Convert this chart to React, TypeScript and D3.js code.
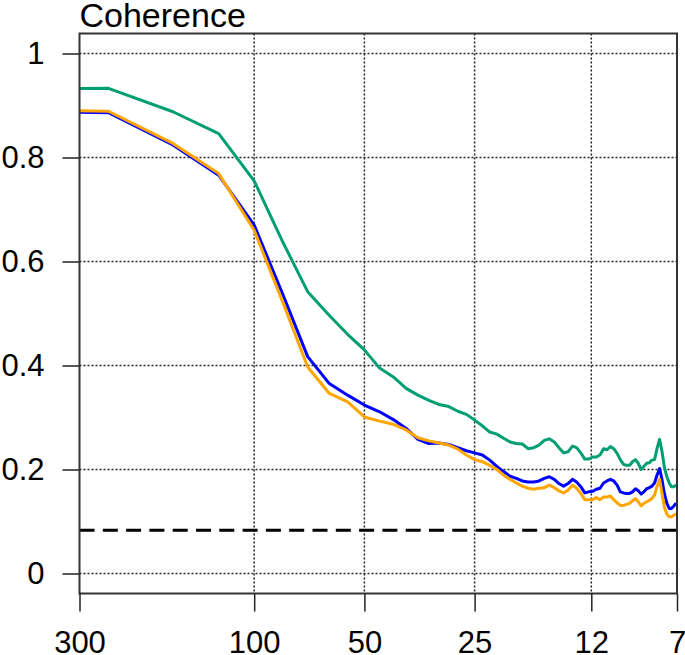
import React, { useEffect, useRef } from 'react';
import * as d3 from 'd3';

// period (months) of each spectral estimate, harmonic k of a 500-month record
const periods = [
  500, 250, 166.67, 125, 100, 83.33, 71.43, 62.5, 55.56, 50,
  45.45, 41.67, 38.46, 35.71, 33.33, 31.25, 29.41, 27.78, 26.32, 25,
  23.81, 22.73, 21.74, 20.83, 20, 19.23, 18.52, 17.86, 17.24, 16.67,
  16.13, 15.63, 15.15, 14.71, 14.29, 13.89, 13.51, 13.16, 12.82, 12.5,
  12.2, 11.9, 11.63, 11.36, 11.11, 10.87, 10.64, 10.42, 10.2, 10,
  9.8, 9.62, 9.43, 9.26, 9.09, 8.93, 8.77, 8.62, 8.47, 8.33,
  8.2, 8.06, 7.94, 7.81, 7.69, 7.58, 7.46, 7.35, 7.25, 7.14, 7.04,
];

const greenSeries = [
  0.931, 0.933, 0.888, 0.846, 0.755, 0.636, 0.542, 0.497, 0.460, 0.430,
  0.395, 0.378, 0.356, 0.343, 0.333, 0.325, 0.321, 0.312, 0.306, 0.295,
  0.284, 0.272, 0.268, 0.260, 0.253, 0.250, 0.249, 0.240, 0.242, 0.247,
  0.256, 0.259, 0.253, 0.242, 0.232, 0.234, 0.245, 0.242, 0.232, 0.220,
  0.220, 0.224, 0.224, 0.228, 0.240, 0.238, 0.244, 0.240, 0.231, 0.219,
  0.210, 0.208, 0.208, 0.215, 0.219, 0.212, 0.200, 0.206, 0.212, 0.213,
  0.218, 0.219, 0.240, 0.258, 0.234, 0.205, 0.186, 0.174, 0.167, 0.167, 0.170,
];

const blueSeries = [
  0.890, 0.886, 0.824, 0.766, 0.670, 0.535, 0.417, 0.366, 0.343, 0.324,
  0.311, 0.296, 0.279, 0.258, 0.250, 0.251, 0.248, 0.242, 0.236, 0.232,
  0.228, 0.218, 0.206, 0.196, 0.187, 0.183, 0.178, 0.176, 0.176, 0.178,
  0.183, 0.186, 0.181, 0.173, 0.168, 0.173, 0.181, 0.176, 0.167, 0.155,
  0.157, 0.158, 0.162, 0.164, 0.174, 0.178, 0.181, 0.178, 0.170, 0.157,
  0.155, 0.154, 0.154, 0.157, 0.163, 0.159, 0.153, 0.157, 0.163, 0.165,
  0.168, 0.174, 0.189, 0.202, 0.180, 0.154, 0.135, 0.125, 0.125, 0.130, 0.135,
];

const orangeSeries = [
  0.893, 0.889, 0.827, 0.769, 0.660, 0.520, 0.397, 0.347, 0.330, 0.301,
  0.293, 0.287, 0.276, 0.261, 0.255, 0.251, 0.247, 0.239, 0.228, 0.219,
  0.215, 0.208, 0.200, 0.189, 0.181, 0.174, 0.168, 0.164, 0.162, 0.164,
  0.165, 0.170, 0.165, 0.159, 0.155, 0.160, 0.170, 0.164, 0.154, 0.142,
  0.142, 0.142, 0.146, 0.142, 0.147, 0.147, 0.149, 0.142, 0.136, 0.131,
  0.131, 0.133, 0.135, 0.140, 0.144, 0.138, 0.130, 0.135, 0.138, 0.141,
  0.144, 0.151, 0.167, 0.181, 0.154, 0.128, 0.114, 0.109, 0.109, 0.112, 0.115,
];

const significance = 0.083;

const xTicks = [300, 100, 50, 25, 12, 7];
const yTicks = [0, 0.2, 0.4, 0.6, 0.8, 1];

const App = () => {
  const svgRef = useRef<SVGSVGElement>(null);
  const width = 685;
  const height = 655;
  const left = 79.5;
  const right = 677;
  const top = 33.5;
  const bottom = 593.5;
  const font = "'Liberation Sans', Arial, Helvetica, sans-serif";

  useEffect(() => {
    const svg = d3.select(svgRef.current);
    svg.selectAll('*').remove();

    const x = d3.scaleLog().domain([300, 7]).range([left, right]);
    const y = d3.scaleLinear().domain([-1 / 26, 1 + 1 / 26]).range([bottom, top]);

    svg.append('defs').append('clipPath').attr('id', 'plot-clip')
      .append('rect')
      .attr('x', left).attr('y', top)
      .attr('width', right - left).attr('height', bottom - top);

    // dotted grid
    const grid = svg.append('g')
      .attr('stroke', '#222')
      .attr('stroke-width', 1.5)
      .attr('stroke-dasharray', '2,2');
    grid.selectAll('line.h')
      .data(yTicks)
      .enter()
      .append('line')
      .attr('x1', left).attr('x2', right)
      .attr('y1', d => y(d)).attr('y2', d => y(d));
    grid.selectAll('line.v')
      .data(xTicks.slice(1, -1))
      .enter()
      .append('line')
      .attr('x1', d => x(d)).attr('x2', d => x(d))
      .attr('y1', top).attr('y2', bottom);

    // significance level
    svg.append('line')
      .attr('x1', left).attr('x2', right)
      .attr('y1', y(significance)).attr('y2', y(significance))
      .attr('stroke', '#000')
      .attr('stroke-width', 3)
      .attr('stroke-dasharray', '15,8.3');

    const line = d3.line<number>()
      .x((d, i) => x(periods[i]))
      .y(d => y(d));

    const series: [number[], string][] = [
      [blueSeries, '#0000ff'],
      [orangeSeries, '#ffa500'],
      [greenSeries, '#009e73'],
    ];
    const lines = svg.append('g').attr('clip-path', 'url(#plot-clip)');
    series.forEach(([values, color]) => {
      lines.append('path')
        .datum(values)
        .attr('d', line)
        .attr('fill', 'none')
        .attr('stroke', color)
        .attr('stroke-width', 3)
        .attr('stroke-linejoin', 'round');
    });

    // frame
    svg.append('rect')
      .attr('x', left).attr('y', top)
      .attr('width', right - left).attr('height', bottom - top)
      .attr('fill', 'none')
      .attr('stroke', '#333')
      .attr('stroke-width', 2);

    const xAxis = d3.axisBottom(x)
      .tickValues(xTicks)
      .tickFormat(d => String(d))
      .tickSizeInner(18)
      .tickSizeOuter(0)
      .tickPadding(19.5);
    const gx = svg.append('g')
      .attr('transform', `translate(0, ${bottom})`)
      .call(xAxis);
    gx.select('.domain').remove();
    gx.selectAll('.tick line').attr('stroke', '#222').attr('stroke-width', 1.5);
    gx.selectAll('text')
      .attr('font-family', font)
      .attr('font-size', 31)
      .attr('fill', '#000');

    const yAxis = d3.axisLeft(y)
      .tickValues(yTicks)
      .tickFormat(d => String(d))
      .tickSizeInner(17)
      .tickSizeOuter(0)
      .tickPadding(18);
    const gy = svg.append('g')
      .attr('transform', `translate(${left}, 0)`)
      .call(yAxis);
    gy.select('.domain').remove();
    gy.selectAll('.tick line').attr('stroke', '#222').attr('stroke-width', 1.5);
    gy.selectAll('text')
      .attr('font-family', font)
      .attr('font-size', 31)
      .attr('fill', '#000');

    svg.append('text')
      .attr('x', left)
      .attr('y', 27)
      .attr('font-family', font)
      .attr('font-size', 34)
      .attr('fill', '#000')
      .text('Coherence');
  }, []);

  return (
    <svg
      ref={svgRef}
      width={width}
      height={height}
      viewBox={`0 0 ${width} ${height}`}
      style={{ position: 'absolute', left: 0, top: 0, background: '#fff' }}
    />
  );
};

export default App;
